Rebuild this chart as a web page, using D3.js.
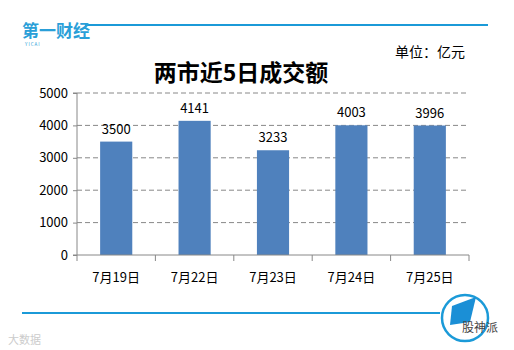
<!DOCTYPE html>
<html>
<head>
<meta charset="utf-8">
<script src="https://cdn.jsdelivr.net/npm/d3@7"></script>
<style>
body{margin:0;background:#fff;}
text{font-family:"Noto Sans CJK SC","Noto Sans",sans-serif;}
</style>
</head>
<body>
<div id="chart"></div>
<script>
var dates=["7月19日","7月22日","7月23日","7月24日","7月25日"]
var amounts=[3500,4141,3233,4003,3996]
var yTicks=[0,1000,2000,3000,4000,5000]

var svgWidth=514
var svgHeight=350
var margin={top:93,right:45,bottom:95,left:77}
var chartWidth=svgWidth-margin.left-margin.right
var chartHeight=svgHeight-margin.top-margin.bottom

var svg=d3.select("#chart").append("svg")
    .attr("width",svgWidth)
    .attr("height",svgHeight)

// header / footer decorations
svg.append("line").attr("x1",85).attr("x2",488).attr("y1",25).attr("y2",25)
    .attr("stroke","#1b9ad8").attr("stroke-width",2)
svg.append("text").attr("x",22).attr("y",37).text("第一财经")
    .attr("font-size","17px").attr("font-weight","bold").attr("fill","#2a9fd8")
svg.append("text").attr("x",25).attr("y",46).text("Y  I  C  A  I")
    .attr("font-size","4.5px").attr("fill","#2a9fd8")
svg.append("text").attr("x",395).attr("y",57).text("单位：亿元")
    .attr("font-size","14px").attr("fill","#000")
svg.append("text").attr("x",241).attr("y",81).attr("text-anchor","middle")
    .text("两市近5日成交额").attr("font-size","23px").attr("font-weight","bold")

svg.append("line").attr("x1",22).attr("x2",440).attr("y1",313).attr("y2",313)
    .attr("stroke","#1b9ad8").attr("stroke-width",2)
svg.append("circle").attr("cx",465).attr("cy",318).attr("r",23)
    .attr("fill","#fff").attr("stroke","#1b9ad8").attr("stroke-width",2.5)
svg.append("path").attr("d","M452,306 L476,297 L470,322 L450,325 Z").attr("fill","#1b8fd6")
svg.append("text").attr("x",462).attr("y",332).text("股神派")
    .attr("font-size","12px").attr("fill","#444")
svg.append("text").attr("x",8).attr("y",344).text("大数据")
    .attr("font-size","11px").attr("fill","#ccc")

var g=svg.append("g").attr("transform",`translate(${margin.left},${margin.top})`)

var x=d3.scaleBand().domain(dates).range([0,chartWidth]).paddingInner(0.59).paddingOuter(0.295)
var xAxisScale=d3.scaleBand().domain(dates).range([0,chartWidth])
var y=d3.scaleLinear().domain([0,5000]).range([chartHeight,0])

// gridlines
g.selectAll(".grid").data(yTicks.filter(d=>d>0)).enter().append("line")
    .attr("x1",0).attr("x2",chartWidth)
    .attr("y1",d=>y(d)).attr("y2",d=>y(d))
    .attr("stroke","#888").attr("stroke-dasharray","5,3")

var leftAxis=d3.axisLeft(y).tickValues(yTicks).tickFormat(d3.format("d")).tickSize(4).tickPadding(5)
var yg=g.append("g").call(leftAxis)
yg.select(".domain").attr("stroke","#888").attr("d",`M-4,0H0V${chartHeight}H-4`)
yg.selectAll(".tick line").attr("stroke","#888")
yg.selectAll("text").attr("font-size","13px").attr("fill","#000")
    .style("font-family","'Noto Sans CJK SC',sans-serif")

g.selectAll(".bar").data(amounts).enter().append("rect")
    .attr("x",(d,i)=>x(dates[i]))
    .attr("y",d=>y(d))
    .attr("width",x.bandwidth())
    .attr("height",d=>chartHeight-y(d))
    .attr("fill","#4f81bd")

g.selectAll(".lbl").data(amounts).enter().append("text")
    .attr("x",(d,i)=>x(dates[i])+x.bandwidth()/2)
    .attr("y",d=>y(d)-8)
    .attr("text-anchor","middle")
    .attr("font-size","13px")
    .text(d=>d)

var xg=g.append("g").attr("transform",`translate(0,${chartHeight})`)
xg.append("line").attr("x1",0).attr("x2",chartWidth).attr("stroke","#888")
xg.selectAll(".xt").data(d3.range(dates.length+1)).enter().append("line")
    .attr("x1",i=>i*xAxisScale.step()).attr("x2",i=>i*xAxisScale.step())
    .attr("y1",0).attr("y2",6).attr("stroke","#888")
xg.selectAll(".xl").data(dates).enter().append("text")
    .attr("x",d=>xAxisScale(d)+xAxisScale.bandwidth()/2)
    .attr("y",27)
    .attr("text-anchor","middle")
    .attr("font-size","13px")
    .text(d=>d)
</script>
</body>
</html>
